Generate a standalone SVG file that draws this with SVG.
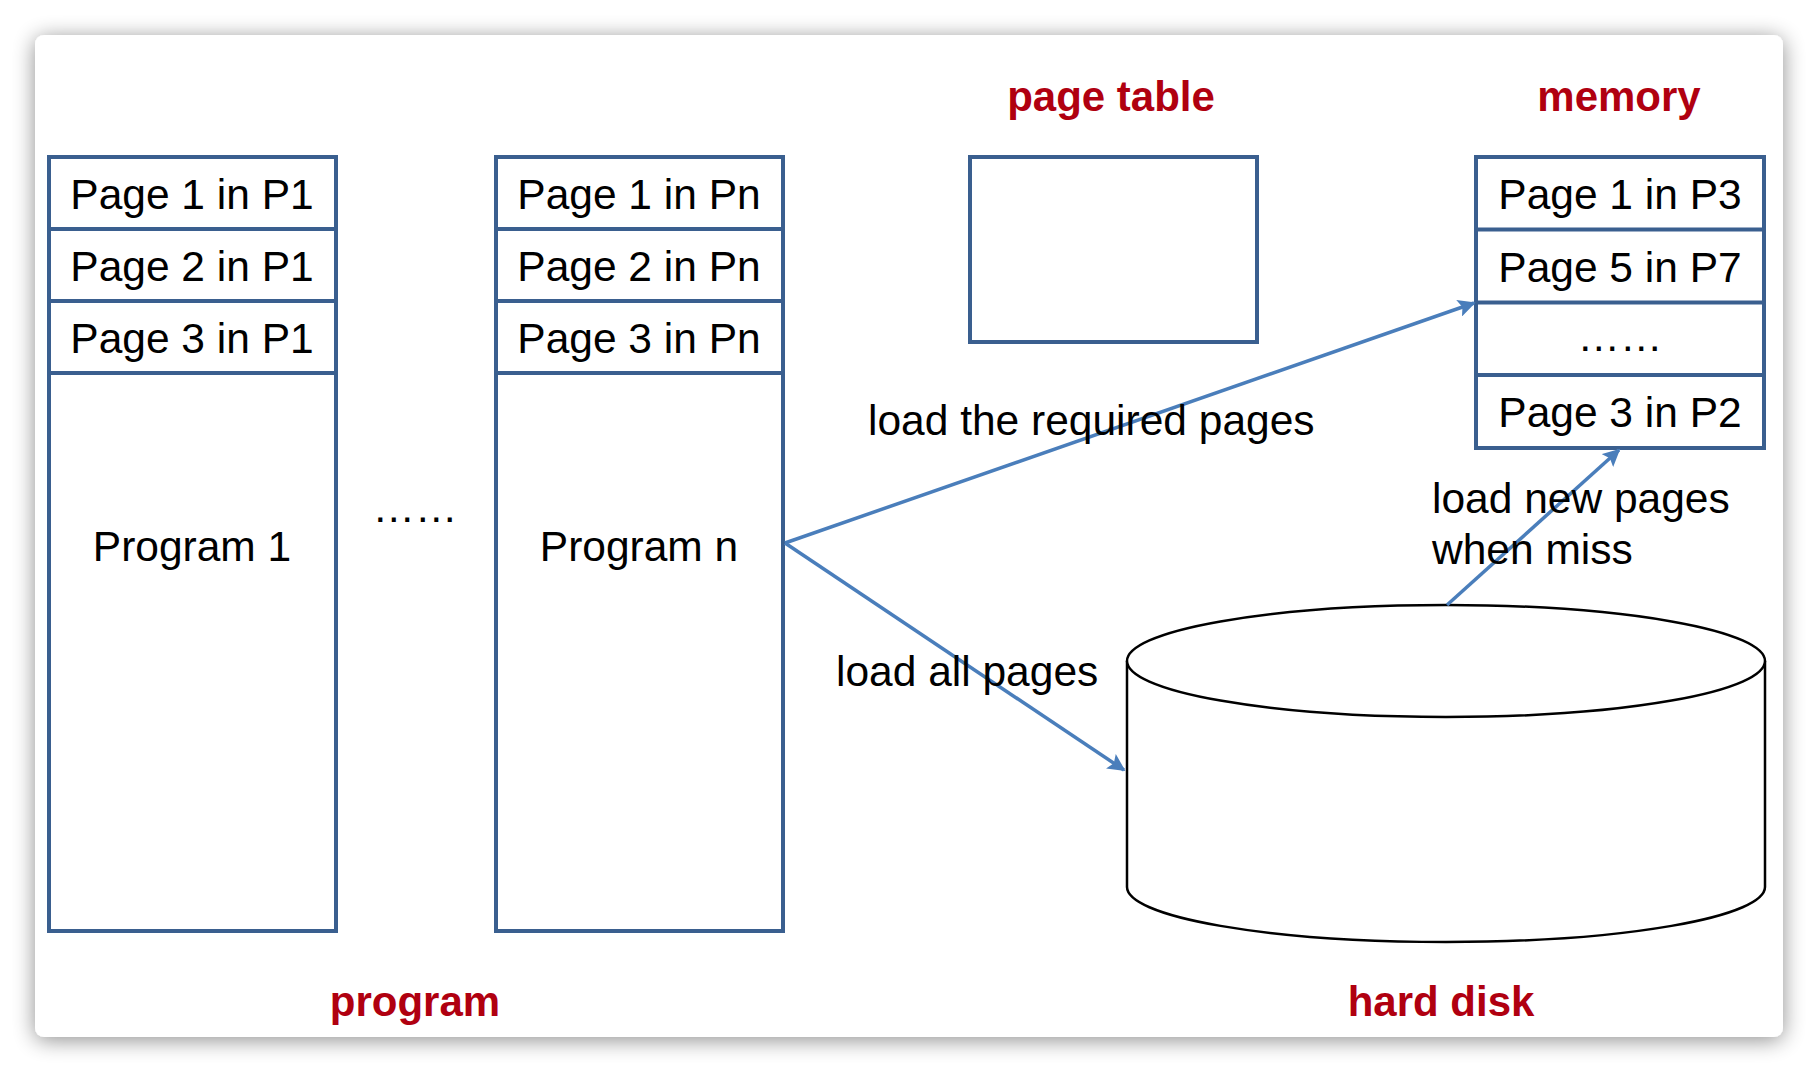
<svg xmlns="http://www.w3.org/2000/svg" width="1820" height="1074" viewBox="0 0 1820 1074">
<defs>
<style>
.box{fill:#ffffff;stroke:#3A5F8F;stroke-width:4}
.t{font-family:"Liberation Sans",Arial,sans-serif;font-size:42.5px;fill:#000}
.c{text-anchor:middle}
.red{font-family:"Liberation Sans",Arial,sans-serif;font-size:42px;font-weight:bold;fill:#B00010;text-anchor:middle}
.arr{stroke:#4A7EBB;stroke-width:3.5;fill:none;marker-end:url(#ah)}
.cyl{fill:#ffffff;stroke:#000;stroke-width:2.5}
</style>
<marker id="ah" viewBox="0 0 10 10" refX="9" refY="5" markerWidth="5" markerHeight="5" orient="auto" markerUnits="strokeWidth">
<path d="M0,0 L10,5 L0,10 L2,5 z" fill="#4A7EBB"/>
</marker>
<filter id="sh" x="-5%" y="-5%" width="110%" height="110%">
<feGaussianBlur in="SourceAlpha" stdDeviation="11"/>
<feOffset dx="0" dy="3"/>
<feComponentTransfer><feFuncA type="linear" slope="0.45"/></feComponentTransfer>
<feMerge><feMergeNode/><feMergeNode in="SourceGraphic"/></feMerge>
</filter>
</defs>
<rect width="1820" height="1074" fill="#ffffff"/>
<rect x="35" y="35" width="1748" height="1002" rx="9" fill="#ffffff" filter="url(#sh)"/>

<g id="program1">
<rect class="box" x="49" y="157" width="287" height="774"/>
<line class="box" x1="49" y1="229" x2="336" y2="229"/>
<line class="box" x1="49" y1="301" x2="336" y2="301"/>
<line class="box" x1="49" y1="373" x2="336" y2="373"/>
<text class="t c" x="192" y="209">Page 1 in P1</text>
<text class="t c" x="192" y="281">Page 2 in P1</text>
<text class="t c" x="192" y="353">Page 3 in P1</text>
<text class="t c" x="192" y="561">Program 1</text>
</g>

<text class="t c" x="415" y="522">……</text>

<g id="programn">
<rect class="box" x="496" y="157" width="287" height="774"/>
<line class="box" x1="496" y1="229" x2="783" y2="229"/>
<line class="box" x1="496" y1="301" x2="783" y2="301"/>
<line class="box" x1="496" y1="373" x2="783" y2="373"/>
<text class="t c" x="639" y="209">Page 1 in Pn</text>
<text class="t c" x="639" y="281">Page 2 in Pn</text>
<text class="t c" x="639" y="353">Page 3 in Pn</text>
<text class="t c" x="639" y="561">Program n</text>
</g>

<g id="pagetable">
<rect class="box" x="970" y="157" width="287" height="185"/>
</g>

<g id="memory">
<rect class="box" x="1476" y="157" width="288" height="291"/>
<line class="box" x1="1476" y1="229.5" x2="1764" y2="229.5"/>
<line class="box" x1="1476" y1="302.5" x2="1764" y2="302.5"/>
<line class="box" x1="1476" y1="375" x2="1764" y2="375"/>
<text class="t c" x="1620" y="209">Page 1 in P3</text>
<text class="t c" x="1620" y="282">Page 5 in P7</text>
<text class="t c" x="1620" y="351">……</text>
<text class="t c" x="1620" y="427">Page 3 in P2</text>
</g>

<g id="harddisk">
<path class="cyl" d="M1127,661 L1127,887 A319,55 0 0 0 1765,887 L1765,661"/>
<ellipse class="cyl" cx="1446" cy="661" rx="319" ry="56"/>
</g>

<g id="connectors">
<line class="arr" x1="785" y1="543" x2="1474" y2="303"/>
<line class="arr" x1="785" y1="543" x2="1124" y2="770"/>
<line class="arr" x1="1447" y1="605" x2="1619" y2="450"/>
</g>

<g id="labels">
<text class="red" x="1111" y="111">page table</text>
<text class="red" x="1619" y="111">memory</text>
<text class="red" x="415" y="1016">program</text>
<text class="red" x="1441" y="1016">hard disk</text>
<text class="t" x="868" y="435">load the required pages</text>
<text class="t" x="836" y="686">load all pages</text>
<text class="t" x="1432" y="513">load new pages</text>
<text class="t" x="1432" y="564">when miss</text>
</g>
</svg>
